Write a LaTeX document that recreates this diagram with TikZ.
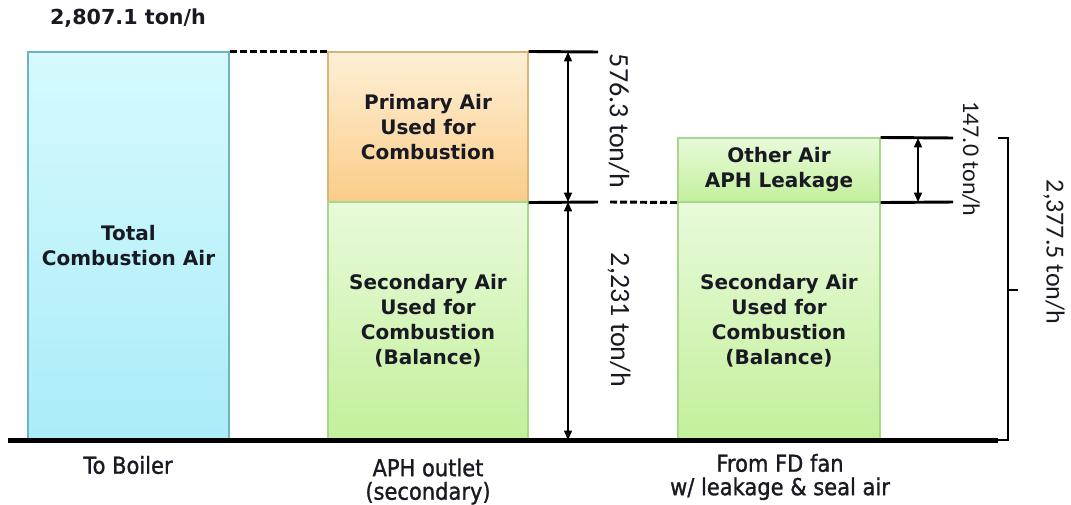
\documentclass[tikz,border=0pt]{standalone}
\usepackage{fontspec}
\setmainfont{DejaVu Sans}
\newfontfamily\botfont[FakeStretch=0.9,FakeBold=1.2]{DejaVu Sans}
\newfontfamily\dimfont{Carlito}
\usetikzlibrary{arrows.meta}
\definecolor{cyantop}{RGB}{214,250,253}
\definecolor{cyanbot}{RGB}{170,236,248}
\definecolor{cyanedge}{RGB}{110,180,190}
\definecolor{orgtop}{RGB}{253,240,214}
\definecolor{orgbot}{RGB}{251,204,136}
\definecolor{orgedge}{RGB}{215,180,120}
\definecolor{grntop}{RGB}{232,250,218}
\definecolor{grnbot}{RGB}{195,240,155}
\definecolor{grnedge}{RGB}{165,215,140}
\definecolor{txt}{RGB}{25,25,35}
\begin{document}
\begin{tikzpicture}[x=0.75pt,y=-0.75pt,
  box/.style={draw, line width=0.8pt, inner sep=0pt, align=center, text=txt,
    font=\fontsize{15}{18.75}\selectfont\bfseries},
  cyanbox/.style={box, top color=cyantop, bottom color=cyanbot, draw=cyanedge},
  orgbox/.style={box, top color=orgtop, bottom color=orgbot, draw=orgedge},
  grnbox/.style={box, top color=grntop, bottom color=grnbot, draw=grnedge},
  dimline/.style={line width=2.2pt},
  dimarrow/.style={line width=1pt, {Triangle[length=7pt,width=6pt]}-{Triangle[length=7pt,width=6pt]}},
  dashline/.style={line width=2.2pt, dash pattern=on 5.25pt off 2.25pt},
  baseline/.style={line width=3.75pt},
  bracket/.style={line width=1.1pt},
  rotlab/.style={rotate=-90, inner sep=0pt, text=txt, font=\dimfont\fontsize{21}{24}\selectfont},
  toplab/.style={inner sep=0pt, text=txt, font=\fontsize{15.5}{19}\selectfont\bfseries},
  botlab/.style={inner sep=0pt, align=center, text=txt, font=\botfont\fontsize{17.5}{17.6}\selectfont}
]
\useasboundingbox (0,0) rectangle (1071,504);
% boxes
\node[cyanbox, minimum width=150.75pt, minimum height=291pt] (total) at (128.5,246) {Total\\Combustion Air};
\node[orgbox, minimum width=150pt, minimum height=112.5pt] (prim) at (428,127) {Primary Air\\Used for\\Combustion};
\node[grnbox, minimum width=150pt, minimum height=178.5pt] (secm) at (428,321) {Secondary Air\\Used for\\Combustion\\(Balance)};
\node[grnbox, minimum width=151.5pt, minimum height=48pt] (other) at (779,170) {Other Air\\APH Leakage};
\node[grnbox, minimum width=151.5pt, minimum height=178.5pt] (secr) at (779,321) {Secondary Air\\Used for\\Combustion\\(Balance)};
% coordinates
\coordinate (t1) at (598,52);
\coordinate (t2) at (598,202);
\coordinate (t3) at (953,138);
\coordinate (t4) at (953,202);
\coordinate (a1) at (568,52);
\coordinate (a2) at (568,202);
\coordinate (a3) at (568,440);
\coordinate (b1) at (918,138);
\coordinate (b2) at (918,202);
\coordinate (d1) at (610,202);
\coordinate (bl) at (8,440);
\coordinate (br) at (998,440);
\coordinate (k1) at (998,138);
\coordinate (k2) at (1008,138);
\coordinate (k3) at (1008,440);
\coordinate (m1) at (1008,290);
\coordinate (m2) at (1018,290);
% dimension lines
\draw[dimline] (prim.north east) -- (t1);
\draw[dimline] (prim.south east) -- (t2);
\draw[dimline] (other.north east) -- (t3);
\draw[dimline] (other.south east) -- (t4);
\draw[dimarrow] (a1) -- (a2);
\draw[dimarrow] (a2) -- (a3);
\draw[dimarrow] (b1) -- (b2);
\draw[dashline] (total.north east) -- (prim.north west);
\draw[dashline] (d1) -- (other.south west);
\draw[baseline] (bl) -- (br);
\draw[bracket] (k1) -- (k2) -- (k3) -- (br);
\draw[bracket] (m1) -- (m2);
% labels
\node[toplab] (tl) at (128,18) {2,807.1 ton/h};
\node[rotlab] (l1) at (619,121) {576.3 ton/h};
\node[rotlab] (l2) at (619,320) {2,231 ton/h};
\node[rotlab, font=\dimfont\fontsize{18}{22}\selectfont] (l3) at (971,159) {147.0 ton/h};
\node[rotlab, font=\dimfont\fontsize{19.5}{22}\selectfont] (l4) at (1054,252) {2,377.5 ton/h};
\node[botlab] (n1) at (128,465) {To Boiler};
\node[botlab] (n2) at (428,481.5) {APH outlet\\(secondary)};
\node[botlab] (n3) at (780,477) {From FD fan\\w/ leakage \& seal air};
\end{tikzpicture}
\end{document}
